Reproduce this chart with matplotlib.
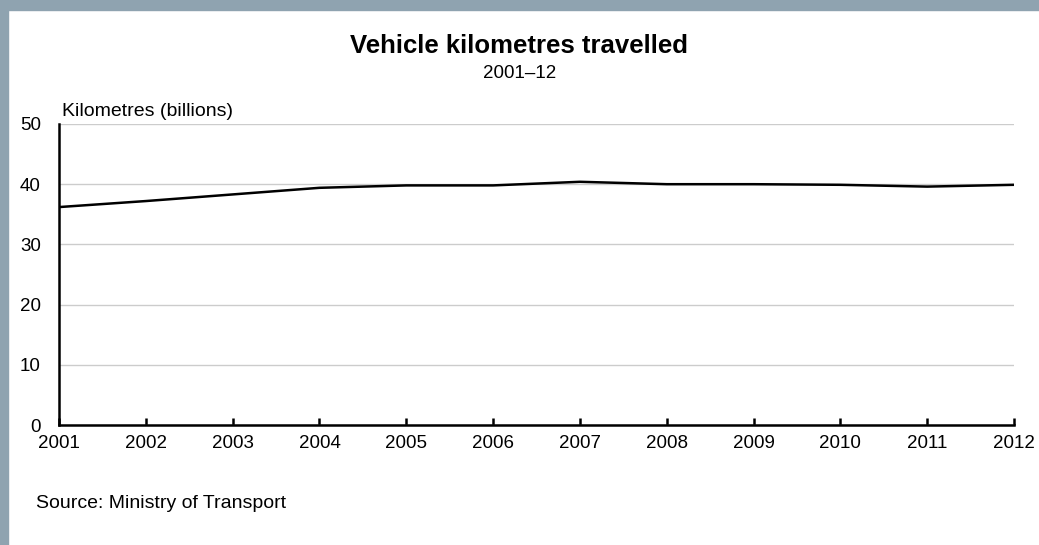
import matplotlib
matplotlib.use("Agg")
import matplotlib.pyplot as plt
from matplotlib.patches import Rectangle

plt.rcParams["font.family"] = ["Liberation Sans", "DejaVu Sans"]

years = [2001, 2002, 2003, 2004, 2005, 2006, 2007, 2008, 2009, 2010, 2011, 2012]
km_billions = [36.2, 37.2, 38.3, 39.4, 39.8, 39.8, 40.4, 40.0, 40.0, 39.9, 39.6, 39.9]
y_ticks = [0, 10, 20, 30, 40, 50]

W, H = 1039, 545
fig = plt.figure(figsize=(W / 100, H / 100), dpi=100)

# blue-grey frame on left and top
fig.patches.append(Rectangle((0, 0), 8 / W, 1, transform=fig.transFigure, color="#8fa3b0", zorder=-1))
fig.patches.append(Rectangle((0, 1 - 10 / H), 1, 10 / H, transform=fig.transFigure, color="#8fa3b0", zorder=-1))

ax = fig.add_axes([59 / W, 1 - 425 / H, (1014 - 59) / W, (425 - 124) / H])
ax.plot(years, km_billions, color="black", linewidth=1.8, zorder=3)

ax.set_xlim(years[0], years[-1])
ax.set_ylim(0, 50)
ax.set_xticks(years)
ax.set_yticks(y_ticks)
ax.grid(axis="y", color="#cccccc", linewidth=1.0)
ax.set_axisbelow(True)
for side in ["top", "right"]:
    ax.spines[side].set_visible(False)
ax.spines["left"].set_linewidth(1.8)
ax.spines["bottom"].set_linewidth(1.8)
ax.tick_params(axis="x", direction="in", length=5, width=1.8, labelsize=13.5, pad=7)
ax.tick_params(axis="y", length=0, labelsize=13.5, pad=13)

fig.text(0.5, 1 - 46 / H, "Vehicle kilometres travelled", ha="center", va="center",
         fontsize=18.5, fontweight="bold")
fig.text(0.5, 1 - 74 / H, "2001\u201312", ha="center", va="center", fontsize=13.5)
fig.text(62 / W, 1 - 112 / H, "Kilometres (billions)", ha="left", va="center", fontsize=14)
fig.text(36 / W, 1 - 504 / H, "Source: Ministry of Transport", ha="left", va="center", fontsize=14)

fig.savefig("out.png", dpi=100)
